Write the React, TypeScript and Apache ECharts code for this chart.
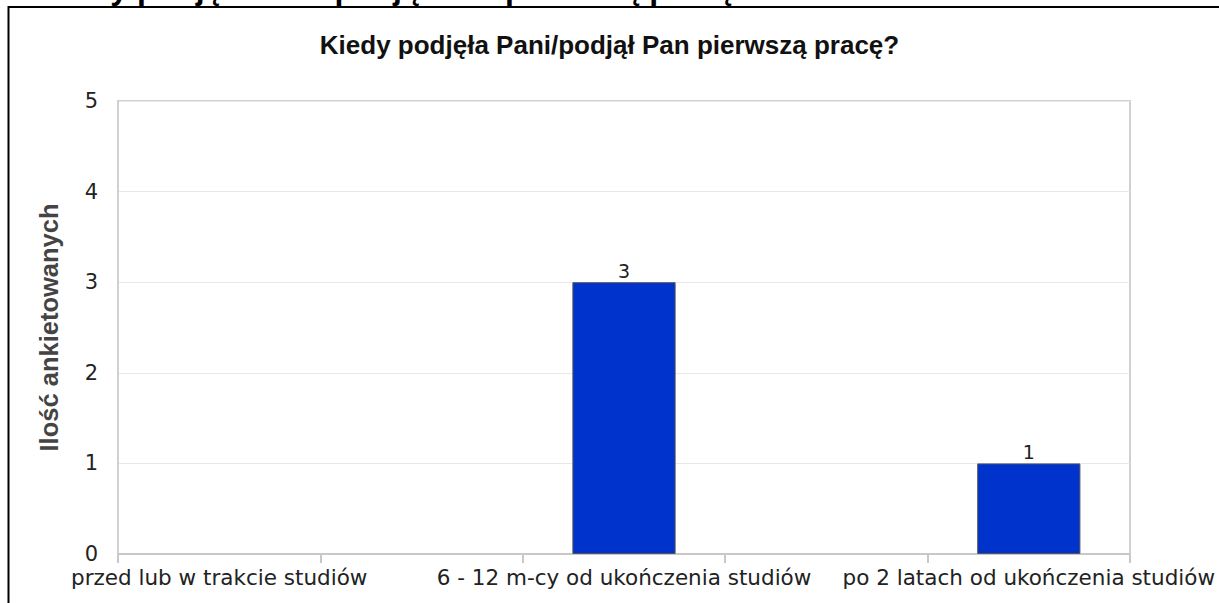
import React, { useEffect, useRef } from "react";
import * as echarts from "echarts";

const titleText = "Kiedy podjęła Pani/podjął Pan pierwszą pracę?";
const headingText = "Kiedy podjęła Pani/podjął Pan pierwszą pracę?";
const yAxisName = "Ilość ankietowanych";
const categories = [
  "przed lub w trakcie studiów",
  "6 - 12 m-cy od ukończenia studiów",
  "po 2 latach od ukończenia studiów",
];
const counts = [0, 3, 1];
const yTicks = [0, 1, 2, 3, 4, 5];

export default function App() {
  const ref = useRef<HTMLDivElement>(null);
  useEffect(() => {
    if (!ref.current) return;
    const chart = echarts.init(ref.current, undefined, { renderer: "svg" });
    // 5 slots: real categories separated by empty spacer categories
    const slots: string[] = [];
    const data: any[] = [];
    categories.forEach((c, i) => {
      if (i > 0) {
        slots.push("");
        data.push("-");
      }
      slots.push(c);
      data.push(
        counts[i] > 0
          ? counts[i]
          : { value: counts[i], itemStyle: { borderWidth: 0, opacity: 0 } }
      );
    });
    chart.setOption({
      animation: false,
      backgroundColor: "#ffffff",
      title: {
        text: titleText,
        left: "center",
        top: 27,
        textStyle: {
          fontFamily: "Liberation Sans, Arial, sans-serif",
          fontWeight: "bold",
          fontSize: 26,
          color: "#111111",
        },
      },
      graphic: [
        {
          type: "text",
          left: 41,
          top: -28,
          silent: true,
          style: {
            text: headingText,
            fontFamily: "Liberation Sans, Arial, sans-serif",
            fontWeight: "bold",
            fontSize: 32,
            fill: "#000000",
          },
          z: 1,
        },
        {
          type: "line",
          shape: { x1: 8.5, y1: 7, x2: 1219, y2: 7 },
          style: { stroke: "#000000", lineWidth: 2 },
          z: 10,
        },
        {
          type: "line",
          shape: { x1: 8.5, y1: 6, x2: 8.5, y2: 603 },
          style: { stroke: "#000000", lineWidth: 2 },
          z: 10,
        },
      ],
      grid: {
        left: 118,
        right: 89,
        top: 101,
        bottom: 49,
        show: true,
        borderColor: "#d0d0d0",
        borderWidth: 2,
        containLabel: false,
      },
      xAxis: {
        type: "category",
        data: slots,
        axisLine: { show: true, lineStyle: { color: "#c8c8c8", width: 2 } },
        axisTick: { show: true, length: 9, lineStyle: { color: "#c8c8c8", width: 2 } },
        axisLabel: {
          interval: 0,
          margin: 12,
          fontFamily: "DejaVu Sans, sans-serif",
          fontSize: 21.5,
          lineHeight: 22,
          color: "#222222",
        },
        splitLine: { show: false },
      },
      yAxis: {
        type: "value",
        min: yTicks[0],
        max: yTicks[yTicks.length - 1],
        interval: 1,
        name: yAxisName,
        nameLocation: "middle",
        nameGap: 56,
        nameRotate: 90,
        nameTextStyle: {
          fontFamily: "Liberation Sans, Arial, sans-serif",
          fontWeight: "bold",
          fontSize: 25.5,
          color: "#444444",
        },
        axisLine: { show: true, lineStyle: { color: "#d0d0d0", width: 2 } },
        axisTick: { show: false },
        axisLabel: {
          margin: 20,
          fontFamily: "DejaVu Sans, sans-serif",
          fontSize: 21,
          lineHeight: 16,
          color: "#222222",
        },
        splitLine: { show: true, lineStyle: { color: "#e8e8e8", width: 1 } },
      },
      series: [
        {
          type: "bar",
          data,
          barWidth: "51%",
          itemStyle: { color: "#0033cc", borderColor: "#555555", borderWidth: 1 },
          label: {
            show: true,
            position: "top",
            distance: 2,
            fontFamily: "DejaVu Sans, sans-serif",
            fontSize: 19,
            color: "#222222",
            formatter: (p: any) => (p.value > 0 ? String(p.value) : ""),
          },
        },
      ],
    });
    return () => chart.dispose();
  }, []);
  return (
    <div
      ref={ref}
      style={{ position: "absolute", left: 0, top: 0, width: 1219, height: 603 }}
    />
  );
}
